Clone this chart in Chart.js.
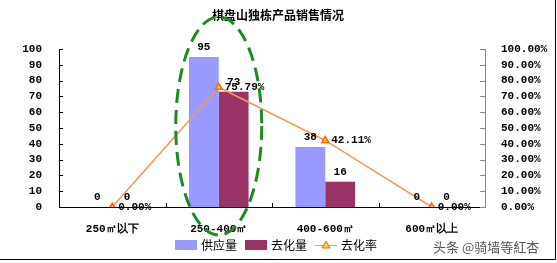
<!DOCTYPE html>
<html>
<head>
<meta charset="utf-8">
<script src="https://cdn.jsdelivr.net/npm/chart.js@4.4.1/dist/chart.umd.min.js"></script>
<style>
  html, body { margin: 0; padding: 0; background: #fff; }
  #wrap { position: relative; width: 557px; height: 263px; }
  #mark { position: absolute; left: 433px; top: 237px; font: 13px "Noto Sans CJK SC"; color: #555; white-space: nowrap; }
</style>
</head>
<body>
<div id="wrap">
  <canvas id="myChart" width="557" height="263"></canvas>
  <span id="mark">头条 @骑墙等紅杏</span>
</div>
<script>
const title = '棋盘山独栋产品销售情况';
const categories = ['250㎡以下', '250-400㎡', '400-600㎡', '600㎡以上'];
const supply = [0, 95, 38, 0];      // 供应量
const sold = [0, 73, 16, 0];        // 去化量
const soldRate = [0, 75.79, 42.11, 0]; // 去化率 (%)
const leftTicks = [0, 10, 20, 30, 40, 50, 60, 70, 80, 90, 100];

const monoFont = { family: 'Liberation Mono', size: 11, weight: 'bold' };

// inner tick marks, labels, title, legend, circle
const extras = {
  id: 'extras',
  afterDatasetsDraw(chart) {
    const ctx = chart.ctx;
    const a = chart.chartArea;
    const x = chart.scales.x, y = chart.scales.y, y2 = chart.scales.y2;
    ctx.save();
    // ticks
    ctx.lineWidth = 1;
    ctx.strokeStyle = '#000';
    ctx.beginPath();
    y.ticks.forEach(t => {
      const py = Math.round(y.getPixelForValue(t.value)) + 0.5;
      ctx.moveTo(a.left, py); ctx.lineTo(a.left + 4, py);
    });
    for (let i = 1; i < categories.length; i++) {
      const px = Math.round((x.getPixelForValue(i - 1) + x.getPixelForValue(i)) / 2) + 0.5;
      ctx.moveTo(px, a.bottom); ctx.lineTo(px, a.bottom - 4);
    }
    ctx.stroke();
    ctx.strokeStyle = '#888';
    ctx.beginPath();
    y2.ticks.forEach(t => {
      const py = Math.round(y2.getPixelForValue(t.value)) + 0.5;
      ctx.moveTo(a.right, py); ctx.lineTo(a.right - 5, py);
    });
    ctx.stroke();

    // data labels
    ctx.font = 'bold 11px "Liberation Mono"';
    ctx.fillStyle = '#000';
    [0, 1].forEach(di => {
      const meta = chart.getDatasetMeta(di);
      ctx.textAlign = 'center';
      ctx.textBaseline = 'bottom';
      meta.data.forEach((bar, i) => {
        ctx.fillText(String(chart.data.datasets[di].data[i]), bar.x, bar.y - 4);
      });
    });
    const lm = chart.getDatasetMeta(2);
    ctx.textAlign = 'left';
    ctx.textBaseline = 'middle';
    lm.data.forEach((p, i) => {
      ctx.fillText(soldRate[i].toFixed(2) + '%', p.x + 6, p.y);
    });

    // title
    ctx.font = 'bold 12px "Noto Sans CJK SC"';
    ctx.textAlign = 'center';
    ctx.fillText(title, 278, 15);

    // green dashed ellipse around 250-400
    const cx = x.getPixelForValue(1);
    ctx.strokeStyle = '#1f8a24';
    ctx.lineWidth = 3;
    ctx.setLineDash([14, 7]);
    ctx.beginPath();
    ctx.ellipse(cx, 126, 43, 109, 0, 0, Math.PI * 2);
    ctx.stroke();
    ctx.setLineDash([]);

    // legend
    const ds = chart.data.datasets;
    let lx = 175;
    const ly = 245;
    ctx.font = '12px "Noto Sans CJK SC"';
    ctx.textAlign = 'left';
    ctx.textBaseline = 'middle';
    ds.forEach(d => {
      if (d.type === 'line') {
        ctx.strokeStyle = d.borderColor;
        ctx.lineWidth = 1;
        ctx.beginPath(); ctx.moveTo(lx, ly + 0.5); ctx.lineTo(lx + 22, ly + 0.5); ctx.stroke();
        ctx.fillStyle = d.pointBackgroundColor;
        ctx.strokeStyle = d.pointBorderColor;
        ctx.beginPath();
        ctx.moveTo(lx + 11, ly - 4); ctx.lineTo(lx + 15, ly + 3); ctx.lineTo(lx + 7, ly + 3); ctx.closePath();
        ctx.fill(); ctx.stroke();
      } else {
        ctx.fillStyle = d.backgroundColor;
        ctx.fillRect(lx, ly - 5, 22, 10);
      }
      ctx.fillStyle = '#000';
      ctx.fillText(d.label, lx + 26, ly);
      lx += 26 + ctx.measureText(d.label).width + 8;
    });

    // frame
    ctx.strokeStyle = '#000';
    ctx.lineWidth = 1;
    ctx.beginPath();
    ctx.moveTo(0, 259.5); ctx.lineTo(555.5, 259.5); ctx.lineTo(555.5, 0);
    ctx.stroke();
    ctx.restore();
  }
};

const ctx = document.getElementById('myChart').getContext('2d');
const config = {
  type: 'bar',
  data: {
    labels: categories,
    datasets: [{
      label: '供应量',
      data: supply,
      backgroundColor: '#9999FF',
      categoryPercentage: 0.56,
      barPercentage: 1,
      yAxisID: 'y',
      order: 2
    }, {
      label: '去化量',
      data: sold,
      backgroundColor: '#993366',
      categoryPercentage: 0.56,
      barPercentage: 1,
      yAxisID: 'y',
      order: 2
    }, {
      type: 'line',
      label: '去化率',
      data: soldRate,
      borderColor: '#F09A5A',
      borderWidth: 1.5,
      pointStyle: 'triangle',
      pointRadius: 4,
      pointBackgroundColor: '#FFCC55',
      pointBorderColor: '#FF6600',
      pointBorderWidth: 1.5,
      yAxisID: 'y2',
      order: 1
    }]
  },
  options: {
    responsive: false,
    animation: false,
    layout: { padding: { top: 49, left: 0, right: 0, bottom: 0 } },
    plugins: { legend: { display: false }, title: { display: false }, tooltip: { enabled: false } },
    scales: {
      x: {
        grid: { display: false },
        border: { color: '#000', width: 1 },
        ticks: { color: '#000', font: monoFont, padding: 8, maxRotation: 0 },
        afterFit(s) { s.height = 56; }
      },
      y: {
        position: 'left',
        min: 0, max: 100,
        afterBuildTicks(s) { s.ticks = leftTicks.map(v => ({ value: v })); },
        grid: { display: false },
        border: { color: '#000', width: 1 },
        ticks: { color: '#000', font: monoFont, padding: 9, autoSkip: false },
        afterFit(s) { s.width = 59; }
      },
      y2: {
        position: 'right',
        min: 0, max: 100,
        grid: { display: false },
        border: { color: '#888', width: 1 },
        ticks: { color: '#000', font: monoFont, padding: 8, stepSize: 10, autoSkip: false,
          callback: v => Number(v).toFixed(2) + '%' },
        afterFit(s) { s.width = 72; }
      }
    }
  },
  plugins: [extras]
};
const myChart = new Chart(ctx, config);
</script>
</body>
</html>
